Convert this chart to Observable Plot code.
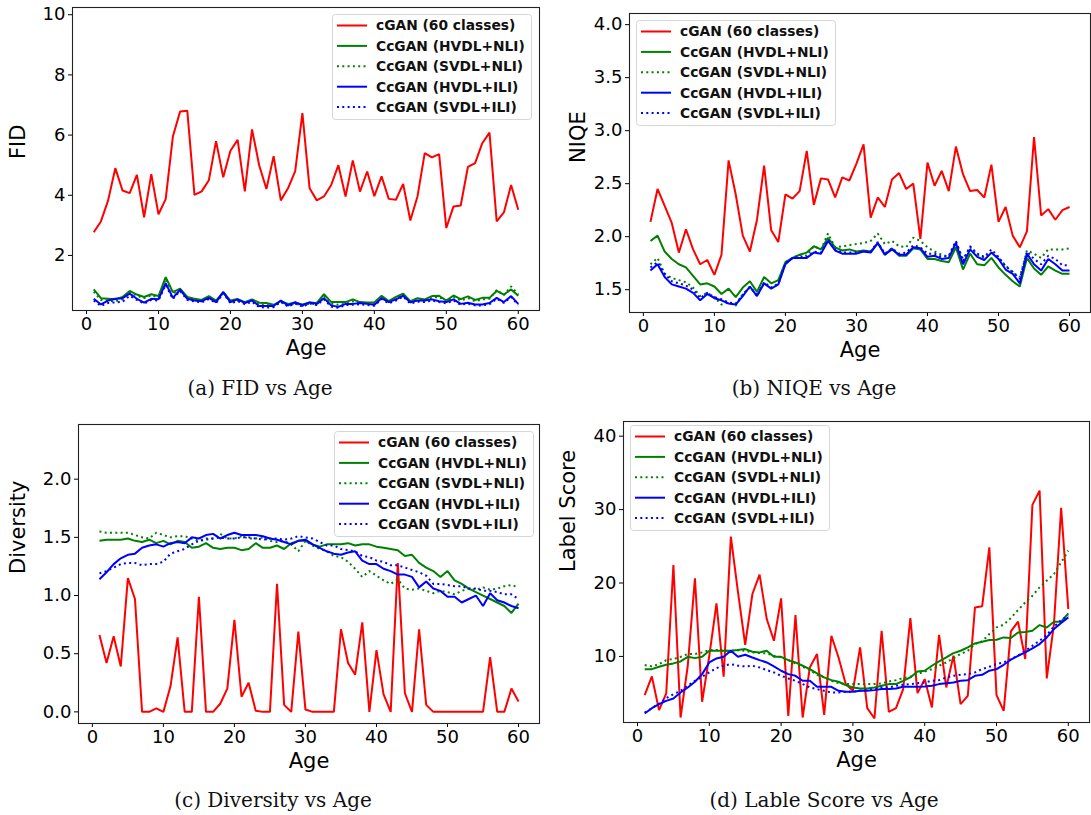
<!DOCTYPE html>
<html><head><meta charset="utf-8">
<script src="https://cdn.jsdelivr.net/npm/d3@7"></script>
<script src="https://cdn.jsdelivr.net/npm/@observablehq/plot@0.6"></script>
<style>
body{margin:0;background:#fff;}
#wrap{position:relative;width:1091px;height:815px;overflow:hidden;background:#fff;font-family:"DejaVu Sans",sans-serif;}
.pan{position:absolute;}
.cap{position:absolute;font-family:"DejaVu Serif",serif;font-size:20px;color:#111;transform:translate(-50%,-50%);white-space:nowrap;}
.leg{position:absolute;}
</style></head><body><div id="wrap"></div>
<script>
const ages = d3.range(1, 61);
const xTicks = [0, 10, 20, 30, 40, 50, 60];
const seriesNames = ["cGAN (60 classes)", "CcGAN (HVDL+NLI)", "CcGAN (SVDL+NLI)", "CcGAN (HVDL+ILI)", "CcGAN (SVDL+ILI)"];
const seriesColors = ["#ff0000", "#008000", "#008000", "#0000ff", "#0000ff"];
const seriesDotted = [false, false, true, false, true];

// (a) FID
const fidTicks = [2, 4, 6, 8, 10];
const fidCgan = [2.77,3.13,3.83,4.90,4.16,4.07,4.68,3.27,4.70,3.37,3.87,5.95,6.78,6.81,4.01,4.13,4.50,5.80,4.60,5.48,5.84,4.13,6.19,4.99,4.21,5.30,3.83,4.23,4.80,6.73,4.23,3.83,3.96,4.34,5.00,3.96,5.16,4.12,4.79,3.97,4.63,3.88,3.85,4.38,3.16,3.97,5.40,5.26,5.37,2.91,3.63,3.66,4.94,5.07,5.73,6.08,3.13,3.43,4.34,3.52];
const fidHvdlNli = [0.87,0.58,0.56,0.54,0.62,0.82,0.70,0.62,0.71,0.65,1.28,0.78,0.90,0.62,0.56,0.52,0.65,0.50,0.78,0.50,0.55,0.45,0.54,0.43,0.42,0.36,0.48,0.39,0.43,0.37,0.44,0.42,0.71,0.45,0.45,0.45,0.54,0.45,0.44,0.44,0.66,0.48,0.62,0.73,0.48,0.58,0.54,0.65,0.66,0.50,0.67,0.55,0.64,0.52,0.59,0.59,0.82,0.70,0.87,0.66];
const fidSvdlNli = [0.80,0.52,0.50,0.47,0.55,0.78,0.66,0.58,0.68,0.60,1.22,0.74,0.86,0.58,0.52,0.48,0.62,0.46,0.76,0.46,0.50,0.42,0.50,0.38,0.36,0.32,0.45,0.34,0.40,0.33,0.40,0.38,0.66,0.40,0.36,0.40,0.48,0.42,0.40,0.38,0.62,0.44,0.58,0.72,0.44,0.52,0.50,0.60,0.62,0.46,0.62,0.50,0.58,0.48,0.54,0.56,0.85,0.68,0.97,0.70];
const fidHvdlIli = [0.56,0.37,0.50,0.56,0.58,0.73,0.56,0.43,0.56,0.54,1.08,0.59,0.86,0.56,0.50,0.48,0.59,0.45,0.78,0.45,0.54,0.42,0.50,0.32,0.32,0.32,0.50,0.34,0.45,0.34,0.44,0.39,0.58,0.34,0.29,0.39,0.39,0.42,0.39,0.36,0.58,0.45,0.54,0.66,0.44,0.50,0.50,0.54,0.48,0.45,0.54,0.39,0.43,0.37,0.37,0.42,0.59,0.45,0.65,0.39];
const fidSvdlIli = [0.50,0.32,0.42,0.44,0.46,0.66,0.52,0.40,0.52,0.50,1.02,0.55,0.82,0.52,0.47,0.44,0.55,0.42,0.74,0.41,0.48,0.38,0.46,0.28,0.27,0.28,0.46,0.30,0.40,0.30,0.40,0.35,0.54,0.30,0.26,0.35,0.36,0.38,0.35,0.33,0.55,0.41,0.50,0.63,0.40,0.46,0.45,0.50,0.45,0.41,0.50,0.36,0.40,0.34,0.34,0.38,0.56,0.42,0.62,0.36];

// (b) NIQE
const niqeTicks = [1.5, 2.0, 2.5, 3.0, 3.5, 4.0];
const niqeCgan = [2.14,2.45,2.29,2.13,1.85,2.07,1.88,1.74,1.78,1.64,1.83,2.72,2.40,2.01,1.86,2.16,2.67,2.06,1.95,2.40,2.36,2.43,2.81,2.30,2.55,2.54,2.37,2.56,2.53,2.69,2.87,2.18,2.37,2.28,2.54,2.60,2.45,2.50,1.98,2.70,2.48,2.62,2.43,2.85,2.59,2.43,2.44,2.37,2.68,2.14,2.28,2.01,1.90,2.05,2.94,2.20,2.26,2.16,2.25,2.28];
const niqeHvdlNli = [1.96,2.01,1.86,1.79,1.74,1.71,1.63,1.55,1.56,1.53,1.46,1.51,1.43,1.52,1.58,1.48,1.62,1.56,1.59,1.76,1.80,1.83,1.85,1.91,1.88,1.99,1.90,1.87,1.88,1.86,1.87,1.86,1.94,1.83,1.89,1.82,1.82,1.89,1.88,1.79,1.79,1.77,1.76,1.90,1.69,1.84,1.74,1.73,1.80,1.71,1.64,1.58,1.53,1.80,1.70,1.64,1.72,1.68,1.65,1.65];
const niqeSvdlNli = [1.74,1.80,1.65,1.61,1.59,1.57,1.52,1.44,1.47,1.43,1.36,1.38,1.35,1.46,1.52,1.46,1.56,1.52,1.56,1.76,1.80,1.83,1.82,1.91,1.88,2.03,1.90,1.91,1.92,1.93,1.94,1.96,2.03,1.93,1.96,1.91,1.90,1.99,1.96,1.90,1.86,1.83,1.81,1.95,1.79,1.90,1.83,1.80,1.85,1.80,1.73,1.66,1.62,1.87,1.84,1.80,1.88,1.88,1.88,1.89];
const niqeHvdlIli = [1.68,1.74,1.62,1.55,1.53,1.51,1.47,1.40,1.46,1.42,1.40,1.37,1.36,1.44,1.53,1.44,1.56,1.51,1.55,1.74,1.80,1.80,1.80,1.85,1.84,1.96,1.87,1.84,1.84,1.84,1.86,1.85,1.94,1.83,1.88,1.83,1.83,1.90,1.89,1.81,1.82,1.79,1.80,1.94,1.74,1.88,1.81,1.78,1.85,1.79,1.69,1.65,1.56,1.84,1.74,1.68,1.79,1.74,1.68,1.68];
const niqeSvdlIli = [1.71,1.76,1.65,1.58,1.56,1.54,1.50,1.42,1.47,1.43,1.41,1.38,1.37,1.45,1.53,1.44,1.57,1.52,1.55,1.75,1.80,1.81,1.81,1.86,1.85,1.97,1.88,1.85,1.85,1.85,1.86,1.86,1.95,1.84,1.89,1.84,1.85,1.92,1.90,1.84,1.84,1.81,1.82,1.96,1.77,1.91,1.84,1.81,1.88,1.81,1.72,1.67,1.60,1.86,1.79,1.74,1.82,1.79,1.73,1.73];

// (c) Diversity
const divTicks = [0.0, 0.5, 1.0, 1.5, 2.0];
const divCgan = [0.66,0.42,0.65,0.39,1.15,0.97,0.00,0.00,0.03,0.00,0.22,0.64,0.00,0.00,0.99,0.00,0.00,0.07,0.20,0.79,0.13,0.25,0.01,0.00,0.00,1.10,0.06,0.00,0.69,0.02,0.00,0.00,0.00,0.00,0.71,0.42,0.32,0.77,0.00,0.53,0.15,0.00,1.28,0.16,0.00,0.71,0.06,0.00,0.00,0.00,0.00,0.00,0.00,0.00,0.00,0.47,0.00,0.00,0.20,0.09];
const divHvdlNli = [1.47,1.48,1.48,1.48,1.49,1.47,1.46,1.48,1.45,1.47,1.44,1.47,1.46,1.41,1.42,1.45,1.41,1.40,1.41,1.41,1.39,1.40,1.45,1.41,1.41,1.43,1.40,1.45,1.47,1.47,1.44,1.42,1.44,1.44,1.44,1.45,1.43,1.44,1.44,1.42,1.41,1.40,1.39,1.34,1.35,1.28,1.24,1.21,1.16,1.21,1.13,1.10,1.06,1.03,1.00,0.97,0.94,0.91,0.85,0.93];
const divSvdlNli = [1.55,1.54,1.54,1.54,1.54,1.52,1.50,1.49,1.54,1.52,1.50,1.51,1.51,1.49,1.47,1.49,1.49,1.53,1.49,1.49,1.51,1.49,1.49,1.50,1.47,1.46,1.47,1.44,1.38,1.47,1.43,1.40,1.38,1.34,1.33,1.29,1.23,1.16,1.21,1.17,1.13,1.10,1.14,1.06,1.05,1.06,1.04,1.02,1.04,1.03,1.01,1.04,1.06,1.05,1.07,1.05,1.06,1.08,1.09,1.07];
const divHvdlIli = [1.14,1.20,1.27,1.32,1.35,1.36,1.41,1.43,1.44,1.42,1.45,1.46,1.45,1.50,1.49,1.52,1.53,1.49,1.52,1.54,1.52,1.52,1.52,1.51,1.49,1.48,1.46,1.44,1.47,1.48,1.44,1.41,1.38,1.36,1.35,1.37,1.38,1.30,1.27,1.27,1.23,1.21,1.18,1.18,1.16,1.07,1.12,1.06,1.04,0.99,0.99,0.94,0.97,1.00,0.91,1.02,0.96,0.94,0.91,0.89];
const divSvdlIli = [1.19,1.21,1.24,1.27,1.28,1.28,1.26,1.27,1.27,1.29,1.36,1.38,1.40,1.44,1.47,1.48,1.49,1.50,1.49,1.49,1.50,1.50,1.49,1.48,1.49,1.49,1.48,1.49,1.51,1.50,1.49,1.46,1.43,1.43,1.40,1.39,1.38,1.34,1.33,1.30,1.29,1.26,1.26,1.24,1.22,1.20,1.17,1.10,1.10,1.09,1.08,1.08,1.06,1.06,1.04,1.04,1.03,1.01,1.01,0.97];

// (d) Label Score
const lsTicks = [10, 20, 30, 40];
const lsCgan = [4.73,7.27,2.68,4.95,22.45,1.68,8.73,20.64,3.82,10.09,17.23,7.23,26.32,18.73,11.59,18.50,21.14,15.09,12.14,17.91,1.91,15.64,1.68,8.50,10.32,2.05,12.82,9.86,6.23,5.32,11.23,2.95,1.55,13.50,2.45,2.95,5.55,15.23,5.00,6.91,3.05,12.95,5.77,10.09,3.50,4.64,16.68,16.82,24.86,4.73,2.59,13.41,14.73,9.64,30.64,32.59,7.00,14.41,30.23,16.45];
const lsHvdlNli = [8.27,8.27,8.59,8.86,9.05,9.32,9.95,9.77,9.95,10.77,10.77,10.77,10.77,10.86,11.00,10.64,10.55,10.77,9.95,9.95,9.50,9.18,8.73,8.27,7.68,7.14,6.77,6.55,6.09,5.77,5.64,5.64,5.77,6.00,6.23,6.23,6.68,7.14,7.95,8.05,8.73,9.32,9.86,10.45,10.77,11.23,11.77,12.00,12.23,12.27,12.59,12.50,13.27,13.32,13.50,14.27,13.95,14.73,14.73,15.86];
const lsSvdlNli = [8.82,8.64,8.95,9.50,9.64,9.95,10.32,10.32,10.55,10.86,10.86,10.77,10.77,10.86,10.77,10.55,10.45,10.41,10.09,9.86,9.50,9.05,8.59,8.14,7.50,7.14,6.68,6.36,6.23,6.23,6.23,6.23,6.23,6.32,6.59,6.77,7.05,7.23,7.59,7.95,8.27,8.73,9.18,9.77,10.32,10.77,11.68,12.05,13.05,13.95,14.32,15.23,16.32,17.36,18.27,19.41,20.32,21.23,22.82,24.41];
const lsHvdlIli = [2.23,2.95,3.50,3.95,4.27,5.09,5.77,6.55,7.59,9.18,9.73,9.95,10.77,9.95,10.23,9.86,9.50,9.18,8.64,8.05,7.59,7.36,6.68,6.68,5.86,5.86,5.86,5.32,5.18,5.18,5.32,5.32,5.41,5.55,5.55,5.64,5.86,5.86,5.86,5.91,6.00,6.23,6.36,6.45,6.68,6.77,7.36,7.50,8.05,8.27,8.86,9.55,10.09,10.55,11.09,11.68,12.59,13.73,14.55,15.32];
const lsSvdlIli = [2.36,2.95,3.59,4.32,4.86,5.32,6.00,6.68,7.23,7.82,8.41,8.73,8.95,8.73,8.64,8.73,8.50,8.14,7.82,7.36,7.00,6.68,6.23,5.77,5.55,5.32,5.09,5.09,5.18,5.18,5.32,5.41,5.55,5.77,5.77,6.00,6.14,6.23,6.36,6.45,6.68,6.77,7.14,7.36,7.50,7.59,7.82,8.27,8.59,8.95,9.18,9.64,10.09,10.77,11.45,12.14,12.91,14.05,14.95,15.55];

const DOT = "2,3.3";
const wrap = document.getElementById("wrap");

function makePanel(cfg) {
  const marks = [
    Plot.axisX(xTicks, {tickSize: 4, tickPadding: 3, fontSize: 18, label: null}),
    Plot.axisY(cfg.yTicks, {tickSize: 4, tickPadding: 3, fontSize: 18, label: null, tickFormat: cfg.fmt})
  ];
  cfg.series.forEach((vals, i) => {
    const rows = ages.map((a, k) => ({age: a, v: vals[k]}));
    marks.push(Plot.lineY(rows, {x: "age", y: "v", stroke: seriesColors[i], strokeWidth: 2,
      strokeDasharray: seriesDotted[i] ? DOT : null, strokeLinejoin: "miter", strokeLinecap: "butt"}));
  });
  marks.push(Plot.frame({stroke: "#222", strokeWidth: 1.1}));
  marks.push(Plot.text(["Age"], {text: d => d, frameAnchor: "bottom", dy: 44, fontSize: 21}));
  marks.push(Plot.text([cfg.yLabel], {text: d => d, frameAnchor: "left", rotate: -90, dx: cfg.yLabelDx, fontSize: 21}));
  const svg = Plot.plot({
    width: cfg.w, height: cfg.h,
    marginLeft: cfg.ml, marginRight: cfg.mr, marginTop: cfg.mt, marginBottom: cfg.mb,
    x: {domain: [-1.95, 62.95]},
    y: {domain: cfg.yDomain},
    style: {fontFamily: "DejaVu Sans", color: "#000", background: "transparent", overflow: "visible"},
    marks
  });
  const d = document.createElement("div");
  d.className = "pan";
  d.style.left = cfg.left + "px"; d.style.top = cfg.top + "px";
  d.appendChild(svg);
  wrap.appendChild(d);

  // legend
  const L = cfg.legend;
  const lg = d3.create("svg").attr("width", 202).attr("height", 108)
    .style("position", "absolute").style("left", L.x + "px").style("top", L.y + "px");
  lg.append("rect").attr("x", 0.5).attr("y", 0.5).attr("width", 199).attr("height", 105)
    .attr("rx", 3).attr("fill", "#fff").attr("fill-opacity", 0.85).attr("stroke", "#d6d6d6");
  seriesNames.forEach((name, i) => {
    const yy = 11.5 + i * 20.4;
    lg.append("line").attr("x1", 5).attr("x2", 35).attr("y1", yy).attr("y2", yy)
      .attr("stroke", seriesColors[i]).attr("stroke-width", 2)
      .attr("stroke-dasharray", seriesDotted[i] ? DOT : null);
    lg.append("text").attr("x", 44).attr("y", yy).attr("dy", "0.36em")
      .attr("font-family", "DejaVu Sans").attr("font-weight", "bold").attr("font-size", 13.8)
      .attr("fill", "#111").text(name);
  });
  wrap.appendChild(lg.node());

  const c = document.createElement("div");
  c.className = "cap";
  c.style.left = cfg.cap.x + "px"; c.style.top = cfg.cap.y + "px";
  c.textContent = cfg.cap.text;
  wrap.appendChild(c);
}

const f1 = d => String(d);
const f2 = d => d.toFixed(1);

makePanel({left: 0, top: 0, w: 545, h: 372, ml: 72, mr: 6, mt: 7, mb: 62,
  yDomain: [0.17, 10.24], yTicks: fidTicks, fmt: f1, yLabel: "FID", yLabelDx: -54,
  series: [fidCgan, fidHvdlNli, fidSvdlNli, fidHvdlIli, fidSvdlIli],
  legend: {x: 332, y: 14}, cap: {x: 260, y: 388, text: "(a) FID vs Age"}});
makePanel({left: 545, top: 0, w: 546, h: 372, ml: 84, mr: 1, mt: 13, mb: 60,
  yDomain: [1.285, 4.105], yTicks: niqeTicks, fmt: f2, yLabel: "NIQE", yLabelDx: -51,
  series: [niqeCgan, niqeHvdlNli, niqeSvdlNli, niqeHvdlIli, niqeSvdlIli],
  legend: {x: 636, y: 20}, cap: {x: 814, y: 388, text: "(b) NIQE vs Age"}});
makePanel({left: 0, top: 410, w: 545, h: 375, ml: 78, mr: 6, mt: 14, mb: 62,
  yDomain: [-0.10, 2.47], yTicks: divTicks, fmt: f2, yLabel: "Diversity", yLabelDx: -60,
  series: [divCgan, divHvdlNli, divSvdlNli, divHvdlIli, divSvdlIli],
  legend: {x: 334, y: 431}, cap: {x: 273, y: 800, text: "(c) Diversity vs Age"}});
makePanel({left: 545, top: 410, w: 546, h: 375, ml: 78, mr: 2, mt: 11, mb: 63,
  yDomain: [1.0, 42.0], yTicks: lsTicks, fmt: f1, yLabel: "Label Score", yLabelDx: -55,
  series: [lsCgan, lsHvdlNli, lsSvdlNli, lsHvdlIli, lsSvdlIli],
  legend: {x: 630, y: 425}, cap: {x: 824, y: 800, text: "(d) Lable Score vs Age"}});
</script></body></html>
